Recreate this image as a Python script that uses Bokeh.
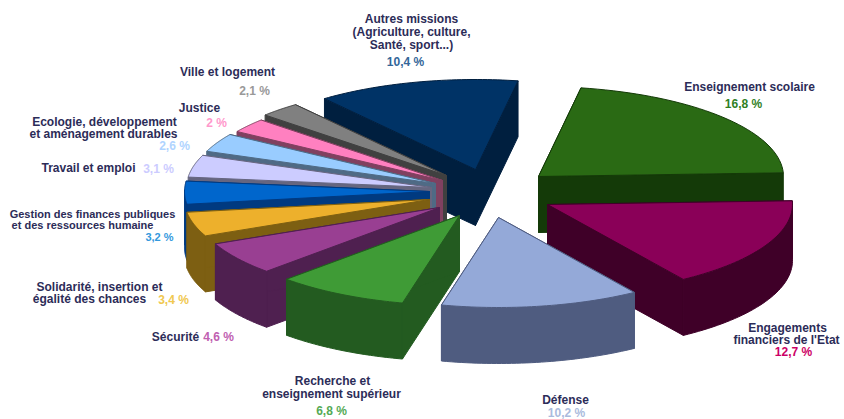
import math
from bokeh.plotting import figure
from bokeh.models import ColumnDataSource, Range1d
from bokeh.core.properties import value
from bokeh.embed import file_html
from bokeh.resources import INLINE

# --- data ---
categories = ["Enseignement scolaire", "Engagements financiers de l'Etat", "Défense",
              "Recherche et enseignement supérieur", "Sécurité",
              "Solidarité, insertion et égalité des chances",
              "Gestion des finances publiques et des ressources humaine",
              "Travail et emploi", "Ecologie, développement et aménagement durables",
              "Justice", "Ville et logement", "Autres missions"]
shares = [16.8, 12.7, 10.2, 6.8, 4.6, 3.4, 3.2, 3.1, 2.6, 2.0, 2.1, 10.4]

# --- style / layout ---
top_colors = ["#2a6a14", "#8a0058", "#94a9d8", "#3f9b36", "#993f92", "#edb02c",
              "#0066cc", "#ccccff", "#99ccff", "#ff80c0", "#808080", "#003366"]
side_colors = ["#143a08", "#3f0028", "#4f5c80", "#235b20", "#4f2050", "#7d5f12",
               "#003a80", "#666680", "#4f6a85", "#804060", "#404040", "#001f3f"]
apex_x = [538, 547, 498, 459, 439, 429, 429, 431, 435, 442, 446, 475]
apex_y = [176, 204, 217, 215, 207, 199, 191, 187, 183, 180, 175, 169]
draw_order = [11, 0, 1, 2, 10, 9, 8, 7, 6, 5, 4, 3]
RX, RY, DEPTH, START = 245.0, 90.0, 56.0, 80.0

total = sum(shares)
bounds = [START]
for s in shares:
    bounds.append(bounds[-1] - s / total * 360.0)

xs, ys, fills, lines = [], [], [], []


def add(px, py, fill, line):
    xs.append(px)
    ys.append(py)
    fills.append(fill)
    lines.append(line)


for i in draw_order:
    ax, ay = apex_x[i], apex_y[i]
    t0, t1 = bounds[i], bounds[i + 1]
    n = 40
    ts = [t0 + (t1 - t0) * k / n for k in range(n + 1)]
    ax_pts = [ax + RX * math.cos(math.radians(t)) for t in ts]
    ay_pts = [ay - RY * math.sin(math.radians(t)) for t in ts]
    side, top = side_colors[i], top_colors[i]
    # cut faces
    for (ex, ey) in ((ax_pts[0], ay_pts[0]), (ax_pts[-1], ay_pts[-1])):
        add([ax, ex, ex, ax], [ay, ey, ey + DEPTH, ay + DEPTH], side, side)
    # outer wall: only the part facing the viewer
    front = [k for k, t in enumerate(ts) if math.sin(math.radians(t)) <= 0.02]
    if len(front) > 1:
        wx = [ax_pts[k] for k in front]
        wy = [ay_pts[k] for k in front]
        add(wx + wx[::-1], wy + [v + DEPTH for v in wy[::-1]], side, side)
    # top face
    add([ax] + ax_pts, [ay] + ay_pts, top, side)

# --- labels ---
NAVY = "#2c2c58"
label_text = ["Autres missions", "(Agriculture, culture,", "Santé, sport...)", "10,4 %",
              "Ville et logement", "2,1 %", "Justice", "2 %",
              "Ecologie, développement", "et aménagement durables", "2,6 %",
              "Travail et emploi", "3,1 %",
              "Gestion des finances publiques", "et des ressources humaine", "3,2 %",
              "Solidarité, insertion et", "égalité des chances", "3,4 %",
              "Sécurité", "4,6 %",
              "Recherche et", "enseignement supérieur", "6,8 %",
              "Défense", "10,2 %",
              "Enseignement scolaire", "16,8 %",
              "Engagements", "financiers de l'Etat", "12,7 %"]
label_x = [411, 411, 411, 405, 227, 254, 199, 216, 104, 103, 174, 88, 158, 92, 82, 159,
           99, 89, 173, 175, 218, 332, 331, 331, 565, 566, 749, 743, 787, 786, 793]
label_y = [18, 31, 44, 61, 71, 90, 107, 122, 121, 133, 145, 167, 168, 213, 224, 236,
           286, 298, 299, 336, 336, 380, 393, 410, 399, 412, 86, 103, 327, 339, 351]
label_size = ["12px"] * 13 + ["11px"] * 3 + ["12px"] * 15
label_color = [NAVY, NAVY, NAVY, "#336699", NAVY, "#999999", NAVY, "#ff99cc", NAVY, NAVY, "#b0d4ff",
               NAVY, "#ccccff", NAVY, NAVY, "#3399dd", NAVY, NAVY, "#f0c850", NAVY, "#c060b0",
               NAVY, NAVY, "#55aa55", NAVY, "#aabbdd", NAVY, "#2f7f1f", NAVY, NAVY, "#cc0066"]

p = figure(width=844, height=419, output_backend="svg", toolbar_location=None,
           x_range=Range1d(0, 844), y_range=Range1d(419, 0), min_border=0)
p.axis.visible = False
p.grid.visible = False
p.outline_line_color = None
p.background_fill_color = "white"

p.patches("xs", "ys", source=ColumnDataSource(dict(xs=xs, ys=ys, fill=fills, line=lines)),
          fill_color="fill", line_color="line", line_width=1)
p.text("x", "y", text="t", text_color="c", text_font_size="s",
       source=ColumnDataSource(dict(x=label_x, y=label_y, t=label_text, c=label_color, s=label_size)),
       text_font=value("Liberation Sans"), text_font_style="bold",
       text_align="center", text_baseline="middle")

open("out.html", "w").write(file_html(p, INLINE))
